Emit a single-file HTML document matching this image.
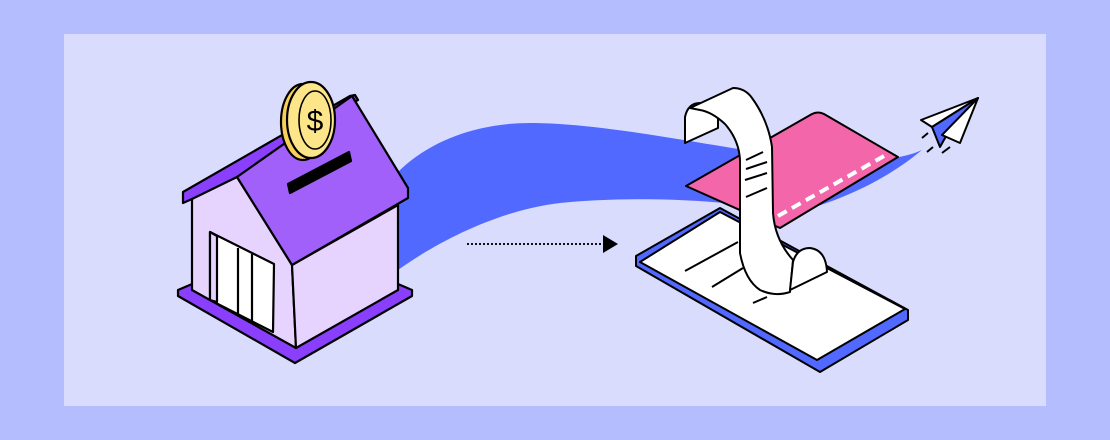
<!DOCTYPE html>
<html><head><meta charset="utf-8"><style>
html,body{margin:0;padding:0;width:1110px;height:440px;overflow:hidden;background:#b4bdfd;}
svg{display:block}
</style></head><body>
<svg width="1110" height="440" viewBox="0 0 1110 440" xmlns="http://www.w3.org/2000/svg">
<rect x="0" y="0" width="1110" height="440" fill="#b4bdfd"/>
<rect x="64" y="34" width="982" height="372" fill="#dadcfe"/>

<!-- ribbon -->
<path d="M398,172 C430,140 480,122 535,123 C600,124 680,140 745,150 L800,215 C740,200 640,195 560,203 C500,210 440,240 398,270 Z" fill="#5269ff"/>
<path d="M775,218 C830,205 880,185 922,150 C905,158 880,160 860,162 L840,190 Z" fill="#5269ff"/>

<!-- dotted arrow -->
<line x1="467" y1="244" x2="604" y2="244" stroke="#111" stroke-width="2" stroke-dasharray="2,2"/>
<polygon points="603,235 618,244 603,253" fill="#000"/>

<!-- HOUSE -->
<g stroke="#000" stroke-width="2.2" stroke-linejoin="round">
<polygon points="178,290 295,240 412,290 412,296 295,363 178,296" fill="#8a3ffc"/>
<polygon points="192,197 237,177 292,265 296,348 192,290" fill="#e6d4ff"/>
<polygon points="292,265 398,205 398,290 296,348" fill="#e6d4ff"/>
<polygon points="183,192 350,96 355,95 358,100 237,177 192,199 183,203" fill="#8a3ffc"/>
<polygon points="237,177 352,96 408,188 408,198 292,265" fill="#a160fa"/>
<polygon points="210,232 274,264 273,332 210,300" fill="#fff"/>
<polygon points="210,232 217,236 217,302 210,300" fill="#e6d4ff"/>
<line x1="238" y1="248" x2="238" y2="315"/>
<line x1="252" y1="254" x2="252" y2="321"/>
<polygon points="288,184 349,152 351,161 290,193" fill="#000"/>
<ellipse cx="303" cy="122" rx="22" ry="38" fill="#f7cf5a"/>
<ellipse cx="311" cy="120" rx="24" ry="38" fill="#fde68a"/>
<ellipse cx="315" cy="120" rx="16" ry="29" fill="#fde68a" stroke-width="1.6"/>
</g>
<text x="315" y="131" text-anchor="middle" font-family="Liberation Sans, sans-serif" font-size="30" fill="#000">$</text>

<!-- PHONE -->
<g stroke="#000" stroke-width="2" stroke-linejoin="round">
<polygon points="636,256 720,208 908,310 908,320 820,372 636,266" fill="#5269ff"/>
<polygon points="640,262 720,212 905,309 817,360" fill="#fff"/>
<line x1="685" y1="271" x2="738" y2="242"/>
<line x1="712" y1="287" x2="743" y2="268"/>
<line x1="753" y1="303" x2="767" y2="297"/>
<!-- card -->
<path d="M686,186 L812,114 Q818,111 824,114 L898,157 L780,228 Z" fill="#f466aa"/>
</g>
<line x1="778" y1="216" x2="884" y2="156" stroke="#fff" stroke-width="4" stroke-dasharray="10,6"/>
<g stroke="#000" stroke-width="2" stroke-linejoin="round" fill="#fff">
<path d="M685,143 L685,117 Q688,103 700,103 Q716,104 718,118 L718,128 Z"/>
<path d="M690,108 L733,88 Q745,88 752,98 Q768,120 772,147 L773,213 Q775,240 793,260 L790,292 Q775,297 760,290 Q745,280 740,253 L740,160 Q739,140 725,124 Q712,112 700,110 Z"/>
<path d="M790,290 L793,262 Q797,248 810,248 Q826,250 827,272 Z"/>
<line x1="746" y1="160" x2="763" y2="152"/>
<line x1="746" y1="169" x2="767" y2="162"/>
<line x1="745" y1="180" x2="767" y2="173"/>
<line x1="746" y1="197" x2="767" y2="188"/>
</g>

<!-- plane -->
<g stroke="#000" stroke-width="2" stroke-linejoin="round">
<polygon points="978,98 921,120 932,127" fill="#fff"/>
<polygon points="978,98 932,127 940,147 945,138" fill="#5269ff"/>
<polygon points="978,98 942,135 960,143" fill="#fff"/>
<line x1="922" y1="138" x2="928" y2="133"/>
<line x1="927" y1="152" x2="933" y2="147"/>
<line x1="942" y1="153" x2="950" y2="147"/>
</g>
</svg>
</body></html>
